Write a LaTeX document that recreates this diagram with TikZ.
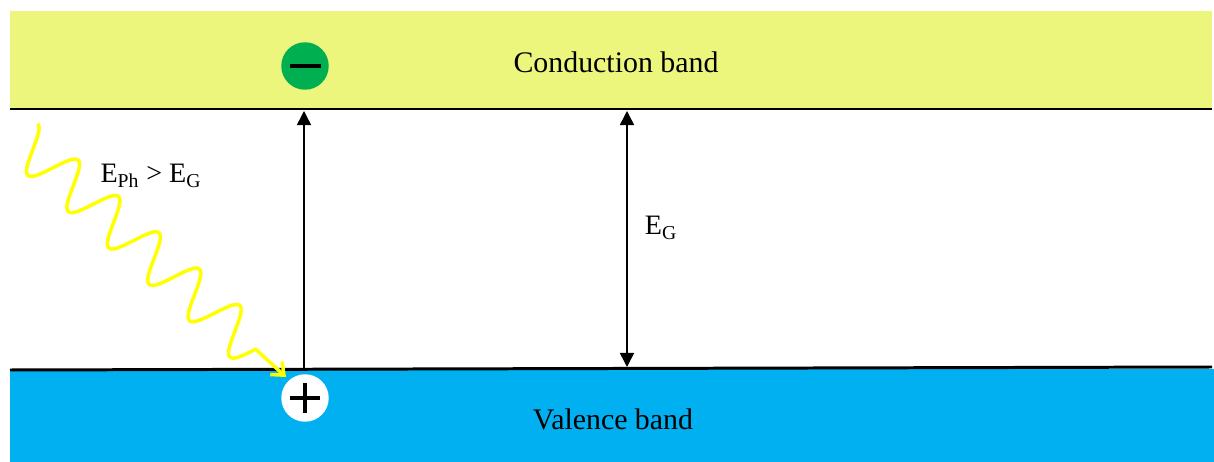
\documentclass[tikz,border=0pt]{standalone}
\usepackage{fontspec}
\setmainfont{Liberation Serif}
\usetikzlibrary{positioning,arrows.meta}

\definecolor{condyellow}{RGB}{236,245,124}
\definecolor{valblue}{RGB}{0,176,240}
\definecolor{elgreen}{RGB}{0,176,80}
\definecolor{photonyellow}{RGB}{255,255,0}

\begin{document}
\begin{tikzpicture}[
  x=0.02cm, y=-0.02cm, >={Triangle[length=8pt, width=8pt]},
  font=\fontsize{16}{19}\selectfont,
  level/.style={line width=1.7pt},
  carrier/.style={circle, minimum size=0.95cm, inner sep=0pt},
  photon/.style={photonyellow, line width=2pt, line join=round,
                 -{Straight Barb[length=6pt, width=10pt]}},
]
  \useasboundingbox (0,0) rectangle (1214,462);

  % bands
  \fill[condyellow] (10,11) rectangle (1212,108);
  \fill[valblue] (10,369) rectangle (1214,462);
  \draw[level] (10,109) -- (1212,109);
  \draw[level] (10,370) -- (1212,367);

  \node[font=\fontsize{17}{20}\selectfont] (cb) at (616,62) {Conduction band};
  \node[font=\fontsize{17}{20}\selectfont] (vb) at (613,419) {Valence band};

  % electron and hole
  \node[carrier, fill=elgreen] (el) at (305,66) {};
  \draw[line width=2.4pt] ([xshift=-0.31cm]el.center) -- ([xshift=0.31cm]el.center);
  \node[carrier, fill=white] (hole) at (305,398) {};
  \draw[line width=1.8pt] ([xshift=-0.3cm]hole.center) -- ([xshift=0.3cm]hole.center);
  \draw[line width=1.8pt] ([yshift=-0.3cm]hole.center) -- ([yshift=0.3cm]hole.center);

  % excitation
  \coordinate (vtop) at (304,368);
  \coordinate (cbot) at (304,111);
  \draw[->, line width=0.8pt] (vtop) -- (cbot);

  % band gap
  \coordinate (gtop) at (627,111);
  \coordinate (gbot) at (627,367);
  \draw[<->, line width=0.9pt] (gbot) -- (gtop);
  \node (eg) at (661,228) {E\textsubscript{G}};

  % photon
  \coordinate (phend) at (286,377);
  \draw[photon] plot[domain=0:313, samples=220, smooth]
        ({22.7+0.743*\x+15.0*cos(6.6176*\x)}, {140.5+0.668*\x-16.7*cos(6.6176*\x)})
        -- (phend);
  \node (eph) at (151,176) {E\textsubscript{Ph} > E\textsubscript{G}};
\end{tikzpicture}
\end{document}
